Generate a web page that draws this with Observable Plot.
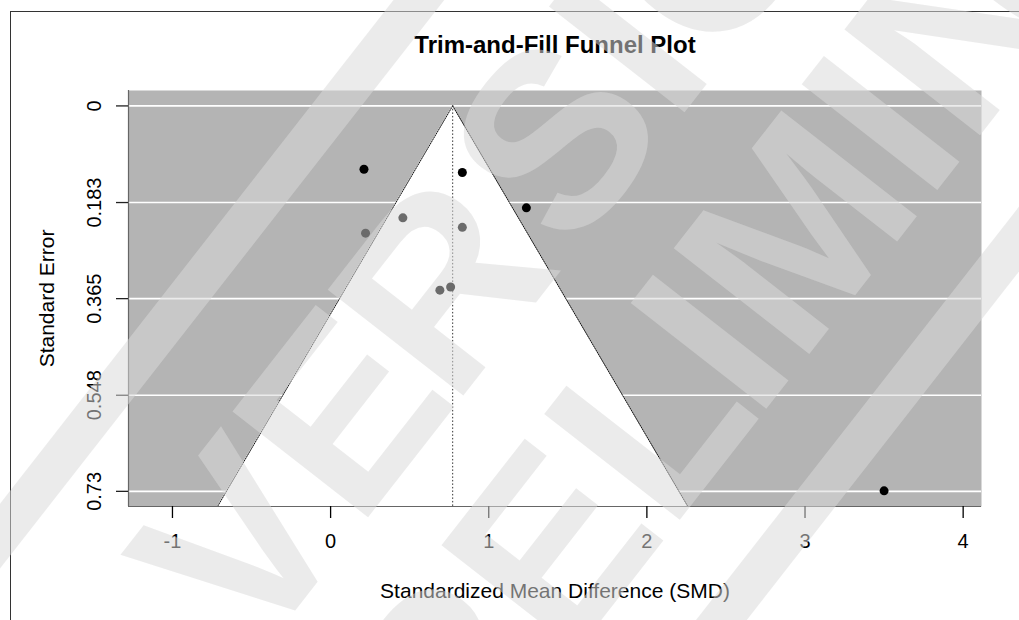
<!DOCTYPE html>
<html>
<head>
<meta charset="utf-8">
<script src="https://cdn.jsdelivr.net/npm/d3@7"></script>
<script src="https://cdn.jsdelivr.net/npm/@observablehq/plot@0.6"></script>
<style>
  html, body { margin: 0; padding: 0; background: #fff; }
  #wrap { position: relative; width: 1019px; height: 620px; overflow: hidden; background: #fff; }
  #box { position: absolute; left: 10px; top: 11px; width: 1200px; height: 800px;
         border-left: 1.5px solid #333; border-top: 1.5px solid #333; }
  #chart { position: absolute; left: 0; top: 0; }
</style>
</head>
<body>
<div id="wrap">
  <div id="box"></div>
  <div id="chart"></div>
</div>
<script>
// ---- data ----
const smd = [0.211, 0.833, 1.238, 0.457, 0.221, 0.833, 0.691, 0.759, 3.50];
const se  = [0.120, 0.126, 0.193, 0.212, 0.241, 0.230, 0.349, 0.343, 0.729];
const dotShade = ["#000", "#000", "#000", "#6b6b6b", "#6b6b6b", "#6b6b6b", "#6b6b6b", "#6b6b6b", "#000"];
const pooledEstimate = 0.772;
const yTicks = [0, 0.183, 0.365, 0.548, 0.73];
const yTickLabels = ["0", "0.183", "0.365", "0.548", "0.73"];
const xTicks = [-1, 0, 1, 2, 3, 4];
const xDomain = [-1.278, 4.116];
const yDomain = [-0.0292, 0.7587];
const titleText = "Trim-and-Fill Funnel Plot";
const xLabel = "Standardized Mean Difference (SMD)";
const yLabel = "Standard Error";
const watermarkLetters1 = ["V", "E", "R", "S", "I", "Ó", "N"];
const watermarkLetters2 = ["P", "R", "E", "L", "I", "M", "I", "N", "A", "R"];

// ---- derived tables ----
const points = smd.map((v, i) => ({smd: v, se: se[i], shade: dotShade[i]}));
const seMax = yDomain[1];
const funnel = [
  {se: 0, lo: pooledEstimate, hi: pooledEstimate},
  {se: seMax, lo: pooledEstimate - 1.96 * seMax, hi: pooledEstimate + 1.96 * seMax}
];
const leftEdge = funnel.map(d => ({x: d.lo, y: d.se}));
const rightEdge = funnel.map(d => ({x: d.hi, y: d.se}));

const font = "'Liberation Sans', Arial, Helvetica, sans-serif";

const chart = Plot.plot({
  width: 1019,
  height: 620,
  marginLeft: 128,
  marginRight: 38,
  marginTop: 90,
  marginBottom: 114,
  x: {domain: xDomain},
  y: {domain: yDomain, reverse: true},
  style: {fontFamily: font, background: "transparent", overflow: "visible"},
  marks: [
    Plot.frame({fill: "#b4b4b4", stroke: null}),
    Plot.ruleY(yTicks, {stroke: "white", strokeWidth: 1.6}),
    Plot.areaX(funnel, {y: "se", x1: "lo", x2: "hi", fill: "white"}),
    Plot.line(leftEdge, {x: "x", y: "y", stroke: "#111", strokeWidth: 1, strokeDasharray: "1.2,1.2"}),
    Plot.line(rightEdge, {x: "x", y: "y", stroke: "#111", strokeWidth: 1, strokeDasharray: "1.2,1.2"}),
    Plot.ruleX([pooledEstimate], {y1: 0, y2: seMax, stroke: "#333", strokeWidth: 1, strokeDasharray: "1.5,2"}),
    Plot.ruleX([xDomain[0]], {stroke: "#666", strokeWidth: 1.2}),
    Plot.ruleY([yDomain[1]], {stroke: "#666", strokeWidth: 1.2}),
    Plot.axisY({ticks: yTicks, tickSize: 12, tickFormat: () => "", stroke: "#222", strokeWidth: 1.3}),
    Plot.text(yTicks, {y: d => d, text: (d, i) => yTickLabels[i], frameAnchor: "left", dx: -28,
      rotate: -90, textAnchor: "middle", lineAnchor: "bottom", fontSize: 20, fill: "#000"}),
    Plot.axisX({ticks: xTicks, tickSize: 12, tickPadding: 15, tickFormat: d => String(d),
      fontSize: 20, color: "#000", strokeWidth: 1.3, label: null}),
    Plot.text([titleText], {frameAnchor: "top", dy: -38, lineAnchor: "bottom", textAnchor: "middle",
      fontSize: 24, fontWeight: "bold", fill: "#000"}),
    Plot.text([xLabel], {frameAnchor: "bottom", dy: 91, lineAnchor: "bottom", textAnchor: "middle",
      fontSize: 21, fill: "#000"}),
    Plot.text([yLabel], {frameAnchor: "left", dx: -75, rotate: -90, lineAnchor: "bottom", textAnchor: "middle",
      fontSize: 21, fill: "#000"}),
    Plot.dot(points, {x: "smd", y: "se", r: 4.5, fill: "shade", stroke: null})
  ]
});
document.getElementById("chart").appendChild(chart);

// ---- watermark (decoration of the reference image), placed just under the dots ----
const svgNode = chart.tagName.toLowerCase() === "svg" ? chart : chart.querySelector("svg");
const dotGroup = svgNode.querySelector('g[aria-label="dot"]');
const wmNode = document.createElementNS("http://www.w3.org/2000/svg", "g");
svgNode.insertBefore(wmNode, dotGroup);
const wmAngle = -52;
const g = d3.select(wmNode).attr("fill", "#d9d9d9").attr("fill-opacity", 0.53)
  .attr("pointer-events", "none");
function wmWord(letters, shifts, tx, ty) {
  const t = g.append("text")
    .attr("transform", `translate(${tx},${ty}) rotate(${wmAngle})`)
    .attr("font-family", font).attr("font-weight", "bold").attr("font-size", 250)
    .attr("text-anchor", "start");
  letters.forEach((ch, i) => t.append("tspan").attr("dx", shifts[i]).text(ch));
}
wmWord(watermarkLetters1, [0, 0, -12, 12, 0, 0, 0], 255, 662);
wmWord(watermarkLetters2, [0, 0, 0, 0, -12, 0, 0, 0, 0, 0], 353, 938);
// long bands above and below the lettering
[[330, 40], [950, 40]].forEach(([off, w]) => {
  g.append("rect")
    .attr("x", -1200).attr("y", -w / 2).attr("width", 2400).attr("height", w)
    .attr("transform", `translate(${0.788 * off},${0.616 * off}) rotate(${wmAngle})`);
});
</script>
</body>
</html>
